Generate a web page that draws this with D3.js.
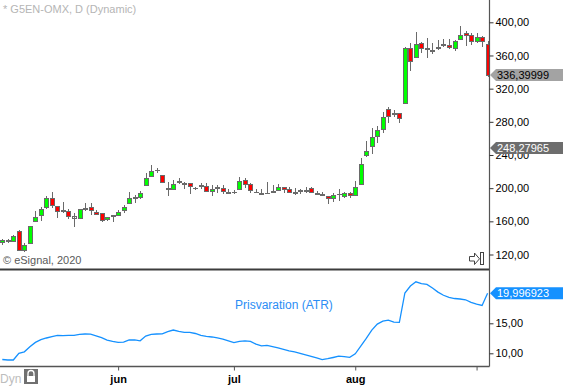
<!DOCTYPE html>
<html>
<head>
<meta charset="utf-8">
<script src="https://cdn.jsdelivr.net/npm/d3@7"></script>
<style>
  body { margin: 0; background: #fff; }
  svg { display: block; font-family: "Liberation Sans", Arial, sans-serif; }
  .tick text { font-size: 11px; fill: #000; }
</style>
</head>
<body>
<svg id="chart" width="563" height="386"></svg>
<script>
// dagliga staplar, index 0 = slutet av april 2020
var opens = [134.1,136.3,136.2,148.2,125.3,133.4,159.5,166.7,176.8,187.2,
  177.6,172.7,171.5,165.5,163.6,174.5,176.4,170.8,169.6,162.4,
  166.3,167.2,172.7,181.2,188.1,188.9,202.9,214.6,220.9,215.4,
  198.6,198.5,208.6,205.2,205.8,199.3,202.5,201.7,196.1,200.4,
  199.7,194.2,195.3,198.5,209.4,204.6,195.0,193.2,194.0,195.7,
  197.3,201.0,198.9,194.5,196.8,196.8,199.7,193.3,192.1,190.1,
  187.7,192.3,190.1,193.7,190.8,204.6,239.1,250.4,262.5,270.4,
  295.0,289.6,290.2,302.3,368.6,357.8,374.7,368.3,365.7,369.5,
  373.0,372.3,368.6,379.5,386.7,384.3,376.6,381.9,373.5];
var highs = [138.9,138.9,143.4,149.5,133.4,154.6,172.7,177.6,190.5,194.9,
  178.0,182.9,174.4,169.6,175.1,182.4,181.7,173.6,170.0,165.5,
  167.5,173.6,179.6,195.6,191.7,196.1,217.8,227.5,223.9,216.1,
  207.0,209.8,211.8,207.7,206.5,201.7,205.8,205.8,203.7,203.7,
  203.7,198.9,197.7,213.0,212.2,205.8,199.3,198.5,207.3,203.7,
  204.9,201.7,201.7,199.7,198.9,201.0,201.0,196.1,195.6,190.8,
  193.7,198.9,195.3,195.3,208.6,235.9,256.8,272.1,274.9,291.4,
  297.5,294.2,290.6,369.8,374.7,387.9,375.9,380.7,374.7,378.6,
  379.5,379.5,378.6,395.5,389.5,386.7,386.7,383.5,377.4];
var lows = [131.7,133.4,135.0,124.5,122.5,133.0,159.3,160.7,175.1,176.4,
  163.6,169.6,162.4,153.4,162.7,172.4,167.5,167.5,159.1,159.9,
  159.5,166.3,169.6,180.4,182.4,187.2,202.5,213.8,217.8,205.8,
  190.8,197.7,204.9,198.9,192.5,198.1,199.3,195.3,190.8,194.1,
  192.5,192.5,193.2,197.7,200.5,194.4,194.4,192.0,193.7,194.4,
  197.3,194.4,193.7,191.7,192.8,193.7,194.4,192.0,191.3,180.4,
  183.6,184.8,187.7,188.4,190.8,204.6,237.9,240.8,254.8,266.1,
  278.9,286.1,278.9,302.0,341.6,357.5,362.6,356.6,361.4,366.6,
  370.6,367.4,365.7,378.6,371.4,372.6,375.4,370.6,334.0];
var closes = [137.4,136.8,141.4,125.3,130.5,153.9,164.8,174.4,187.7,179.6,
  172.4,172.9,166.3,163.9,174.4,174.9,173.6,168.8,161.2,165.1,
  166.8,171.2,176.4,187.7,188.8,194.1,211.8,219.8,221.5,207.0,
  199.1,204.9,207.0,205.6,202.5,199.7,202.9,195.6,198.5,200.7,
  195.6,194.6,195.0,208.2,204.6,197.3,195.3,193.5,194.1,195.6,
  201.0,198.5,194.9,194.2,196.9,197.1,194.9,193.2,192.0,187.7,
  191.3,192.6,194.1,191.3,201.0,228.7,244.8,261.3,269.7,285.4,
  286.6,289.8,284.2,368.6,352.9,373.5,369.0,368.1,365.9,369.3,
  373.2,369.8,376.6,383.5,384.3,377.1,381.9,376.6,336.39999];

// Prisvaration (ATR)
var atr = [8.97,8.88,8.88,10.0,10.25,11.08,11.82,12.28,12.55,12.78,
  12.98,12.93,13.0,13.0,13.15,13.22,13.18,12.92,12.6,12.2,
  11.97,11.83,11.85,12.23,12.22,12.08,12.87,13.15,13.22,13.25,
  13.62,13.88,13.65,13.5,13.5,13.3,12.97,12.83,12.72,12.57,
  12.38,12.08,11.77,11.98,12.07,12.0,11.52,11.25,11.32,11.12,
  10.9,10.67,10.42,10.22,9.98,9.73,9.48,9.22,8.95,9.1,
  9.3,9.52,9.45,9.33,9.92,11.18,12.48,13.87,14.87,15.37,
  15.53,15.2,15.17,20.05,21.22,21.92,21.63,21.48,20.88,20.2,
  19.67,19.33,19.13,19.05,18.92,18.48,18.2,17.97,19.996923];

var priceTicks = [120,160,200,240,280,320,360,400];
var atrTicks = [10,15];
var monthIdx = [21,42,64,86];
var monthLabels = ["jun","jul","aug",""];

var priceMarkers = [
  {v: 248.27965, fill: "#6d6d6d", text: "#fff"},
  {v: 336.39999, fill: "#a3a3a3", text: "#000"}
];
var atrLast = 19.996923;

var svg = d3.select("#chart"),
    right = 489.5,
    mainBottom = 269,
    lowTop = 270,
    lowBottom = 366.5;

var x = d3.scaleLinear().domain([0, opens.length - 1]).range([2.3, 487.6]);
var y = d3.scaleLinear().domain([120, 400]).range([254.5, 22.3]);
var yA = d3.scaleLinear().domain([10, 15]).range([353.3, 323.3]);

var komma = function(v, n){ return d3.format("." + n + "f")(v).replace(".", ","); };

svg.append("clipPath").attr("id", "clipMain")
  .append("rect").attr("x", 0).attr("y", 0).attr("width", right).attr("height", mainBottom);
svg.append("clipPath").attr("id", "clipLow")
  .append("rect").attr("x", 0).attr("y", lowTop).attr("width", right).attr("height", lowBottom - lowTop);

/* texter */
svg.append("text").attr("x", 3).attr("y", 13)
  .attr("font-size", "11px").attr("fill", "#b5b5b5")
  .text("* G5EN-OMX, D (Dynamic)");
svg.append("text").attr("x", 3).attr("y", 264)
  .attr("font-size", "11px").attr("fill", "#5a5a5a")
  .text("\u00a9 eSignal, 2020");

/* candles */
var bars = d3.range(opens.length);
var g = svg.append("g").attr("clip-path", "url(#clipMain)").attr("shape-rendering", "crispEdges");

g.selectAll(".wick").data(bars).enter().append("line")
  .attr("x1", function(i){ return Math.round(x(i)) + 0.5; })
  .attr("x2", function(i){ return Math.round(x(i)) + 0.5; })
  .attr("y1", function(i){ return y(highs[i]); })
  .attr("y2", function(i){ return y(lows[i]); })
  .attr("stroke", "#6a6a6a").attr("stroke-width", 1);

g.selectAll(".body").data(bars).enter().append("rect")
  .attr("x", function(i){ return Math.round(x(i)) - 1.5; })
  .attr("y", function(i){ return y(Math.max(opens[i], closes[i])); })
  .attr("width", 4)
  .attr("height", function(i){ return Math.max(0, Math.abs(y(opens[i]) - y(closes[i]))); })
  .attr("fill", function(i){
    if (Math.abs(y(opens[i]) - y(closes[i])) < 1.5) return "none";
    return closes[i] >= opens[i] ? "#00ff00" : "#ff0000";
  })
  .attr("stroke", "#6a6a6a").attr("stroke-width", 1);

// doji-streck
g.selectAll(".doji").data(bars.filter(function(i){ return Math.abs(y(opens[i]) - y(closes[i])) < 1.5; }))
  .enter().append("line")
  .attr("x1", function(i){ return Math.round(x(i)) - 2; })
  .attr("x2", function(i){ return Math.round(x(i)) + 3; })
  .attr("y1", function(i){ return Math.round(y(closes[i])) + 0.5; })
  .attr("y2", function(i){ return Math.round(y(closes[i])) + 0.5; })
  .attr("stroke", "#6a6a6a").attr("stroke-width", 1.5);

/* ATR */
var line = d3.line().x(function(d, i){ return x(i); }).y(function(d){ return yA(d); });
svg.append("path").datum(atr)
  .attr("clip-path", "url(#clipLow)")
  .attr("d", line)
  .attr("fill", "none").attr("stroke", "#1591ff").attr("stroke-width", 1.3);

svg.append("text").attr("x", 235).attr("y", 309)
  .attr("font-size", "12px").attr("fill", "#2b8df5")
  .text("Prisvaration (ATR)");

/* ramar */
svg.append("line").attr("x1", 0).attr("x2", right).attr("y1", 269.5).attr("y2", 269.5)
  .attr("stroke", "#3c3c3c").attr("stroke-width", 2);
svg.append("line").attr("x1", 0).attr("x2", right).attr("y1", lowBottom).attr("y2", lowBottom)
  .attr("stroke", "#555").attr("stroke-width", 1.5);
svg.append("line").attr("x1", right).attr("x2", right).attr("y1", 0).attr("y2", lowBottom)
  .attr("stroke", "#555").attr("stroke-width", 1.2);

/* axlar */
var yAxis = svg.append("g").attr("transform", "translate(" + right + ",0)")
  .call(d3.axisRight(y).tickValues(priceTicks).tickSize(4).tickPadding(2)
    .tickFormat(function(d){ return komma(d, 2); }));
yAxis.select(".domain").remove();
yAxis.selectAll(".tick line").attr("stroke", "#333");

var aAxis = svg.append("g").attr("transform", "translate(" + right + ",0)")
  .call(d3.axisRight(yA).tickValues(atrTicks).tickSize(4).tickPadding(2)
    .tickFormat(function(d){ return komma(d, 2); }));
aAxis.select(".domain").remove();
aAxis.selectAll(".tick line").attr("stroke", "#333");

var xAxis = svg.append("g").attr("transform", "translate(0," + lowBottom + ")")
  .call(d3.axisBottom(x).tickValues(monthIdx).tickSize(4).tickPadding(5)
    .tickFormat(function(d, i){ return monthLabels[i]; }));
xAxis.select(".domain").remove();
xAxis.selectAll(".tick line").attr("stroke", "#555");
xAxis.selectAll(".tick text").attr("font-weight", "bold");

/* senaste värden */
function etikett(yPos, fill, textFill, txt){
  svg.append("path")
    .attr("d", "M490," + yPos + "L496," + (yPos - 6) + "L563," + (yPos - 6) +
      "L563," + (yPos + 6) + "L496," + (yPos + 6) + "Z")
    .attr("fill", fill);
  svg.append("text").attr("x", 497).attr("y", yPos + 4)
    .attr("font-size", "11px").attr("fill", textFill).text(txt);
}
priceMarkers.forEach(function(m){ etikett(y(m.v), m.fill, m.text, komma(m.v, 5)); });
etikett(yA(atrLast), "#1591ff", "#fff", komma(atrLast, 6));

/* ikoner */
var ik = svg.append("g").attr("fill", "none").attr("stroke", "#444").attr("stroke-width", 1);
ik.append("path").attr("d", "M469.5,256.5H474.5V253L479.5,258.8L474.5,264.5V261H469.5Z");
ik.append("rect").attr("x", 480.5).attr("y", 252.5).attr("width", 3).attr("height", 12);

svg.append("text").attr("x", 0).attr("y", 383)
  .attr("font-size", "12px").attr("fill", "#bdbdbd").text("Dyn");
svg.append("rect").attr("x", 24).attr("y", 369).attr("width", 14).attr("height", 15).attr("fill", "#707070");
svg.append("path").attr("d", "M28,376V373.5A3,3 0 0 1 34,373.5V376")
  .attr("fill", "none").attr("stroke", "#fff").attr("stroke-width", 1.3);
svg.append("rect").attr("x", 27).attr("y", 376).attr("width", 8).attr("height", 6).attr("fill", "#fff");
</script>
</body>
</html>
